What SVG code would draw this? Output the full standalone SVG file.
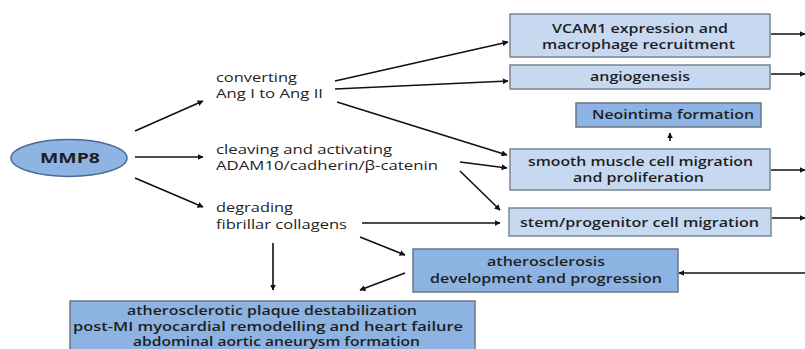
<svg xmlns="http://www.w3.org/2000/svg" width="805" height="349" viewBox="0 0 805 349">
<defs>
<style>
text{font-family:"Open Sans","Liberation Sans",sans-serif;font-size:12.5px;fill:#1e1e1e;}
.lbl{font-weight:400;}
.box text{font-weight:600;}
#outcomes text{font-size:12px;}
.light{fill:#c6d9f1;stroke:#7a8594;stroke-width:1.5;}
.dark{fill:#8db3e2;stroke:#6b7584;stroke-width:1.5;}
.conn line{stroke:#111;stroke-width:1.6;marker-end:url(#ah);}
</style>
<marker id="ah" viewBox="0 0 10 10" refX="9" refY="5" markerWidth="6" markerHeight="6" markerUnits="userSpaceOnUse" orient="auto">
<path d="M0,0 L10,5 L0,10 z" fill="#111"/>
</marker>
</defs>
<rect width="805" height="349" fill="#ffffff"/>

<g id="mmp8">
<ellipse cx="69" cy="158" rx="58" ry="18.5" fill="#8eb4e3" stroke="#4d6a94" stroke-width="1.5"/>
<text x="40" y="163" textLength="60" lengthAdjust="spacingAndGlyphs" style="font-weight:700;font-size:14px">MMP8</text>
</g>

<g id="label-converting" class="lbl">
<text x="216" y="82" textLength="81" lengthAdjust="spacingAndGlyphs">converting</text>
<text x="216" y="98" textLength="107" lengthAdjust="spacingAndGlyphs">Ang I to Ang II</text>
</g>
<g id="label-cleaving" class="lbl">
<text x="216" y="154" textLength="176" lengthAdjust="spacingAndGlyphs">cleaving and activating</text>
<text x="216" y="170" textLength="222" lengthAdjust="spacingAndGlyphs">ADAM10/cadherin/β-catenin</text>
</g>
<g id="label-degrading" class="lbl">
<text x="216" y="212" textLength="77" lengthAdjust="spacingAndGlyphs">degrading</text>
<text x="216" y="229" textLength="131" lengthAdjust="spacingAndGlyphs">fibrillar collagens</text>
</g>

<g id="vcam1" class="box">
<rect class="light" x="510" y="14" width="260" height="43"/>
<text x="552" y="33" textLength="176" lengthAdjust="spacingAndGlyphs">VCAM1 expression and</text>
<text x="542" y="49" textLength="193" lengthAdjust="spacingAndGlyphs">macrophage recruitment</text>
</g>
<g id="angiogenesis" class="box">
<rect class="light" x="510" y="65" width="260" height="24"/>
<text x="590" y="81" textLength="100" lengthAdjust="spacingAndGlyphs">angiogenesis</text>
</g>
<g id="neointima" class="box">
<rect class="dark" x="576" y="103" width="185" height="24"/>
<text x="592" y="119" textLength="162" lengthAdjust="spacingAndGlyphs">Neointima formation</text>
</g>
<g id="smc" class="box">
<rect class="light" x="510" y="149" width="260" height="41"/>
<text x="528" y="166" textLength="225" lengthAdjust="spacingAndGlyphs">smooth muscle cell migration</text>
<text x="573" y="182" textLength="131" lengthAdjust="spacingAndGlyphs">and proliferation</text>
</g>
<g id="stem" class="box">
<rect class="light" x="509" y="208" width="262" height="28"/>
<text x="520" y="227" textLength="239" lengthAdjust="spacingAndGlyphs">stem/progenitor cell migration</text>
</g>
<g id="athero" class="box">
<rect class="dark" x="413" y="249" width="265" height="43"/>
<text x="487" y="266" textLength="118" lengthAdjust="spacingAndGlyphs">atherosclerosis</text>
<text x="430" y="283" textLength="232" lengthAdjust="spacingAndGlyphs">development and progression</text>
</g>
<g id="outcomes" class="box">
<rect class="dark" x="70" y="301" width="405" height="52"/>
<text x="127" y="315" textLength="290" lengthAdjust="spacingAndGlyphs">atherosclerotic plaque destabilization</text>
<text x="73" y="330.5" textLength="390" lengthAdjust="spacingAndGlyphs">post-MI myocardial remodelling and heart failure</text>
<text x="133" y="346" textLength="287" lengthAdjust="spacingAndGlyphs">abdominal aortic aneurysm formation</text>
</g>

<g id="connectors" class="conn">
<line x1="135" y1="131" x2="203" y2="101"/>
<line x1="135" y1="157" x2="203" y2="157"/>
<line x1="135" y1="178" x2="203" y2="207"/>
<line x1="335" y1="81" x2="508" y2="42"/>
<line x1="335" y1="89" x2="508" y2="81"/>
<line x1="337" y1="102" x2="507" y2="155"/>
<line x1="460" y1="162" x2="507" y2="168"/>
<line x1="460" y1="171" x2="500" y2="210"/>
<line x1="362" y1="223" x2="500" y2="223"/>
<line x1="360" y1="237" x2="405" y2="255"/>
<line x1="273" y1="243" x2="273" y2="290"/>
<line x1="405" y1="273" x2="360" y2="290"/>
<line x1="670" y1="141" x2="670" y2="133"/>
<line x1="771" y1="34" x2="805" y2="34"/>
<line x1="771" y1="74" x2="805" y2="74"/>
<line x1="771" y1="170" x2="805" y2="170"/>
<line x1="772" y1="218" x2="805" y2="218"/>
<line x1="805" y1="273" x2="679" y2="273"/>
</g>
</svg>
